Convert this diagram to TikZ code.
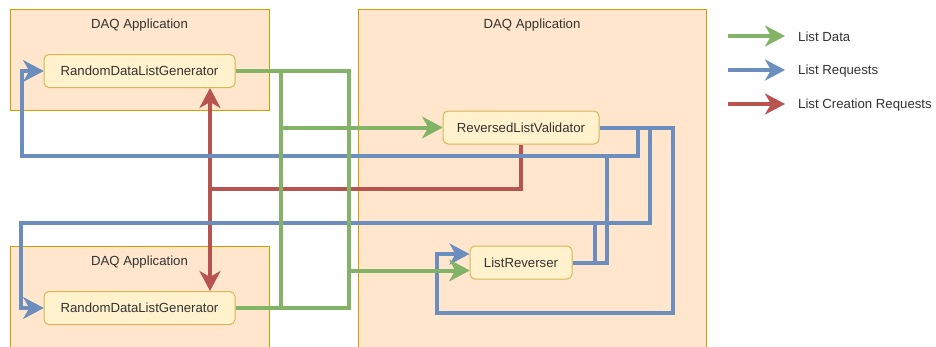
\documentclass[tikz,border=0pt]{standalone}
\usepackage{fontspec}
\setmainfont{Liberation Sans}
\usetikzlibrary{arrows.meta}
\definecolor{appfill}{HTML}{FFE6CC}
\definecolor{appline}{HTML}{D79B00}
\definecolor{blockfill}{HTML}{FFF2CC}
\definecolor{blockline}{HTML}{D6B656}
\definecolor{datacol}{HTML}{82B366}
\definecolor{reqcol}{HTML}{6C8EBF}
\definecolor{createcol}{HTML}{B85450}
\definecolor{txt}{HTML}{333333}
\tikzset{
  app/.style={fill=appfill, draw=appline, line width=1pt},
  apptitle/.style={text=txt, font=\fontsize{13.2}{15}\selectfont, inner sep=0pt},
  block/.style={fill=blockfill, draw=blockline, line width=1pt, rounded corners=5pt,
    text=txt, font=\fontsize{13.2}{15}\selectfont, minimum height=33pt, inner sep=0pt},
  flow/.style={line width=4pt, -{Stealth[length=20pt,width=21pt,inset=6pt]}},
  dataflow/.style={flow, draw=datacol},
  reqflow/.style={flow, draw=reqcol},
  createflow/.style={flow, draw=createcol},
  legendtext/.style={anchor=west, text=txt, font=\fontsize{13.2}{15}\selectfont, inner sep=0pt},
}
\begin{document}
\begin{tikzpicture}[x=1pt, y=-1pt]
\clip (0,0) rectangle (936,346);
\fill[white] (0,0) rectangle (936,346);

% application containers
\draw[app] (10,9.5) rectangle (269,110);
\draw[app] (10,246) rectangle (269,362);
\draw[app] (358,9.5) rectangle (706,362);
\node[apptitle] (t1) at (139.5,25.5) {DAQ Application};
\node[apptitle] (t2) at (139.5,262) {DAQ Application};
\node[apptitle] (t3) at (532,25.5) {DAQ Application};

% modules
\node[block, minimum width=191pt] (tg) at (139.5,71) {RandomDataListGenerator};
\node[block, minimum width=191pt] (bg) at (139.5,308) {RandomDataListGenerator};
\node[block, minimum width=156pt] (rlv) at (521,127.5) {ReversedListValidator};
\node[block, minimum width=102pt] (lr) at (521,262.5) {ListReverser};

% list creation requests
\draw[createflow] (rlv.south) -- (521,189) -| ([xshift=70.5pt]tg.south);
\draw[createflow] (rlv.south) -- (521,189) -| ([xshift=70.5pt]bg.north);

% list requests
\draw[reqflow] (rlv.east) -- (638,127.5) -- (638,156) -- (22,156) |- (tg.west);
\draw[reqflow] (rlv.east) -- (650,127.5) -- (650,223) -- (21,223) |- (bg.west);
\draw[reqflow] (rlv.east) -- (673,127.5) -- (673,313) -- (437,313) |- ([yshift=8.5pt]lr.west);
\draw[reqflow] (lr.east) -- (595,262.5) -- (595,223) -- (21,223) |- (bg.west);
\draw[reqflow] (lr.east) -- (607,262.5) -- (607,156) -- (22,156) |- (tg.west);

% list data
\draw[dataflow] (tg.east) -- ++(45,0) |- (rlv.west);
\draw[dataflow] (tg.east) -- ++(113,0) |- ([yshift=-8pt]lr.west);
\draw[dataflow] (bg.east) -- ++(45,0) |- (rlv.west);
\draw[dataflow] (bg.east) -- ++(113,0) |- ([yshift=-8pt]lr.west);

% legend
\node[legendtext] (l1) at (798,37) {List Data};
\node[legendtext] (l2) at (798,71) {List Requests};
\node[legendtext] (l3) at (798,105) {List Creation Requests};
\coordinate (s1) at (728,36);
\coordinate (s2) at (728,70);
\coordinate (s3) at (728,104);
\draw[dataflow] (s1) -- ([xshift=-13pt,yshift=1pt]l1.west);
\draw[reqflow] (s2) -- ([xshift=-13pt,yshift=1pt]l2.west);
\draw[createflow] (s3) -- ([xshift=-13pt,yshift=1pt]l3.west);
\end{tikzpicture}
\end{document}
